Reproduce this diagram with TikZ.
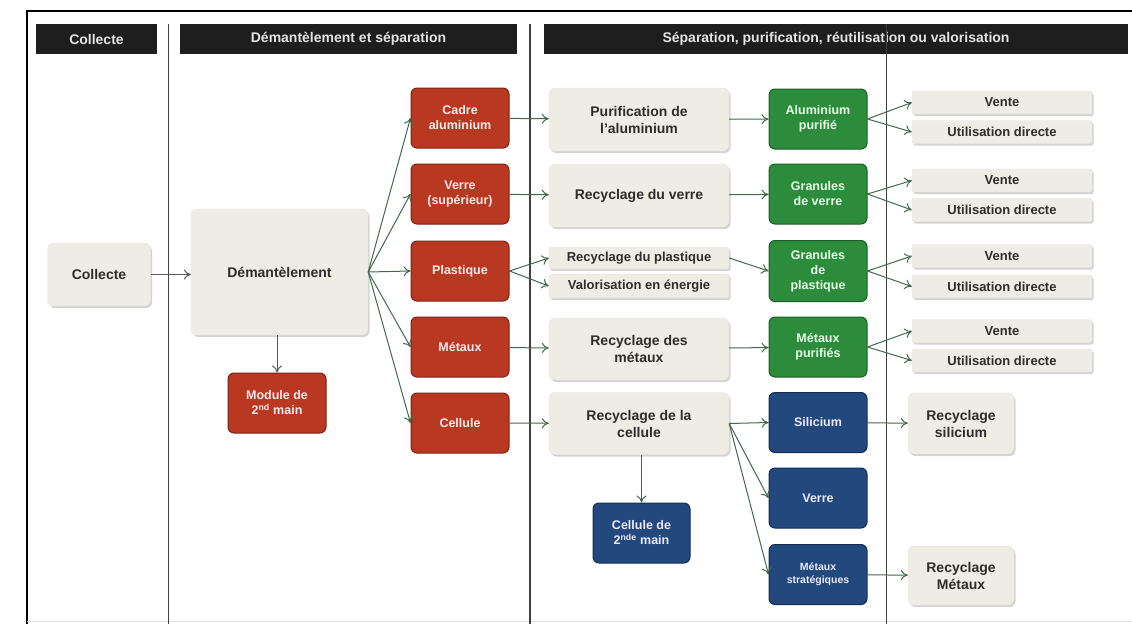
\documentclass[tikz,border=0pt]{standalone}
\usepackage{fontspec}
\setmainfont{Liberation Sans}
\usetikzlibrary{arrows.meta,shadows}

\definecolor{hdrfill}{RGB}{30,30,30}
\definecolor{hdrtext}{RGB}{228,228,228}
\definecolor{lightfill}{RGB}{238,236,228}
\definecolor{lighttext}{RGB}{45,45,45}
\definecolor{redfill}{RGB}{184,56,33}
\definecolor{reddraw}{RGB}{125,35,20}
\definecolor{greenfill}{RGB}{44,140,60}
\definecolor{greendraw}{RGB}{25,95,38}
\definecolor{bluefill}{RGB}{35,72,125}
\definecolor{bluedraw}{RGB}{20,45,85}
\definecolor{arrowgreen}{RGB}{65,105,75}

\tikzset{
  hdr/.style={fill=hdrfill, text=hdrtext, font=\bfseries\fontsize{14}{16}\selectfont,
    minimum height=30pt, inner sep=0pt},
  lbox/.style={rounded corners=6pt, fill=lightfill, draw=black!10, text=lighttext,
    align=center, font=\bfseries\fontsize{14}{17}\selectfont, minimum width=180pt,
    minimum height=62pt, inner sep=2pt,
    drop shadow={shadow xshift=1.5pt,shadow yshift=-2pt,opacity=0.35}},
  strip/.style={lbox, rounded corners=2pt, font=\bfseries\fontsize{13}{15}\selectfont,
    minimum height=23pt},
  cbox/.style={rounded corners=6pt, line width=1pt, align=center,
    font=\bfseries\fontsize{12.5}{15}\selectfont, minimum width=98pt,
    minimum height=60pt, inner sep=2pt},
  rbox/.style={cbox, fill=redfill, draw=reddraw, text=red!8},
  gbox/.style={cbox, fill=greenfill, draw=greendraw, text=green!10},
  bbox/.style={cbox, fill=bluefill, draw=bluedraw, text=blue!8},
  arr/.style={-{To[length=7pt,width=10pt]}, draw=arrowgreen, line width=1pt},
  grayarr/.style={arr, draw=black!65},
  sep/.style={draw=black!75, line width=1.5pt}
}

\begin{document}
\begin{tikzpicture}[x=1pt,y=-1pt]
  \useasboundingbox (0,0) rectangle (1132,624);
  % frame
  \draw[line width=2pt] (1132,11) -- (27,11) -- (27,624);
  \draw[black!12] (27,621) -- (1132,621);
  % headers
  \node[hdr, minimum width=121pt] (hcollecte) at (96.5,39) {Collecte};
  \node[hdr, minimum width=337pt] (hdemant) at (348.5,39) {Démantèlement et séparation};
  \node[hdr, minimum width=584pt] (hsepar) at (836,39) {Séparation, purification, réutilisation ou valorisation};

  % collecte and dismantling
  \node[lbox, minimum width=103pt, minimum height=63pt] (collecte) at (99,274.5) {Collecte};
  \node[lbox, minimum width=177pt, minimum height=126pt] (demant) at (279.5,272) {Démantèlement};
  \node[rbox] (module) at (277,403) {Module de\\2\textsuperscript{nd} main};

  % fractions
  \node[rbox] (cadre) at (460,118) {Cadre\\aluminium};
  \node[rbox] (verre) at (460,194) {Verre\\(supérieur)};
  \node[rbox] (plast) at (460,271) {Plastique};
  \node[rbox] (metaux) at (460,347) {Métaux};
  \node[rbox] (cellule) at (460,423) {Cellule};

  % treatments
  \node[lbox, minimum height=63pt] (purif) at (639,119.5) {Purification de\\l'aluminium};
  \node[lbox, minimum height=63pt] (recverre) at (639,195.5) {Recyclage du verre};
  \node[strip, minimum height=22pt] (recplast) at (639,258) {Recyclage du plastique};
  \node[strip, minimum height=24pt] (valor) at (639,286) {Valorisation en énergie};
  \node[lbox] (recmet) at (639,349) {Recyclage des\\métaux};
  \node[lbox] (reccell) at (639,423.5) {Recyclage de la\\cellule};
  \node[bbox, minimum width=97pt] (cell2) at (641.5,533) {Cellule de\\2\textsuperscript{nde} main};

  % products
  \node[gbox] (alu) at (818,119) {Aluminium\\purifié};
  \node[gbox] (granverre) at (818,194) {Granules\\de verre};
  \node[gbox, minimum height=61pt] (granplast) at (818,271) {Granules\\de\\plastique};
  \node[gbox] (metpur) at (818,347) {Métaux\\purifiés};
  \node[bbox] (silic) at (818,422.5) {Silicium};
  \node[bbox] (bverre) at (818,498) {Verre};
  \node[bbox, font=\bfseries\fontsize{10.5}{13}\selectfont] (metstrat) at (818,574.5) {Métaux\\stratégiques};

  % outlets
  \node[strip] (vente1) at (1002,102.5) {Vente};
  \node[strip] (util1) at (1002,132) {Utilisation directe};
  \node[strip] (vente2) at (1002,180.5) {Vente};
  \node[strip] (util2) at (1002,210) {Utilisation directe};
  \node[strip] (vente3) at (1002,256) {Vente};
  \node[strip] (util3) at (1002,286.5) {Utilisation directe};
  \node[strip] (vente4) at (1002,331) {Vente};
  \node[strip] (util4) at (1002,360.5) {Utilisation directe};
  \node[lbox, minimum width=106pt, minimum height=61pt] (recsil) at (961,423.5) {Recyclage\\silicium};
  \node[lbox, minimum width=106pt, minimum height=59pt] (recmetx) at (961,575.5) {Recyclage\\Métaux};

  % column lines
  \draw[sep] (168.5,24) -- (168.5,624);
  \draw[sep] (530,24) -- (530,624);
  \draw[sep] (886.5,24) -- (886.5,624);

  % arrows
  \draw[grayarr] (collecte) -- (collecte -| demant.west);
  \draw[grayarr] (demant.south -| module) -- (module);
  \foreach \f in {cadre,verre,plast,metaux,cellule}
    \draw[arr] (demant.east) -- (\f.west);
  \draw[arr] (cadre) -- (purif);
  \draw[arr] (verre) -- (recverre);
  \draw[arr] (plast.east) -- (recplast.west);
  \draw[arr] (plast.east) -- (valor.west);
  \draw[arr] (metaux) -- (recmet);
  \draw[arr] (cellule) -- (reccell);
  \draw[arr] (purif) -- (alu);
  \draw[arr] (recverre) -- (granverre);
  \draw[arr] (recplast.east) -- (granplast.west);
  \draw[arr] (recmet) -- (metpur);
  \draw[arr] (reccell.south -| cell2) -- (cell2);
  \foreach \b in {silic,bverre,metstrat}
    \draw[arr] (reccell.east) -- (\b.west);
  \draw[arr] (alu.east) -- (vente1.west);
  \draw[arr] (alu.east) -- (util1.west);
  \draw[arr] (granverre.east) -- (vente2.west);
  \draw[arr] (granverre.east) -- (util2.west);
  \draw[arr] (granplast.east) -- (vente3.west);
  \draw[arr] (granplast.east) -- (util3.west);
  \draw[arr] (metpur.east) -- (vente4.west);
  \draw[arr] (metpur.east) -- (util4.west);
  \draw[arr] (silic) -- (recsil);
  \draw[arr] (metstrat) -- (recmetx);
\end{tikzpicture}
\end{document}
